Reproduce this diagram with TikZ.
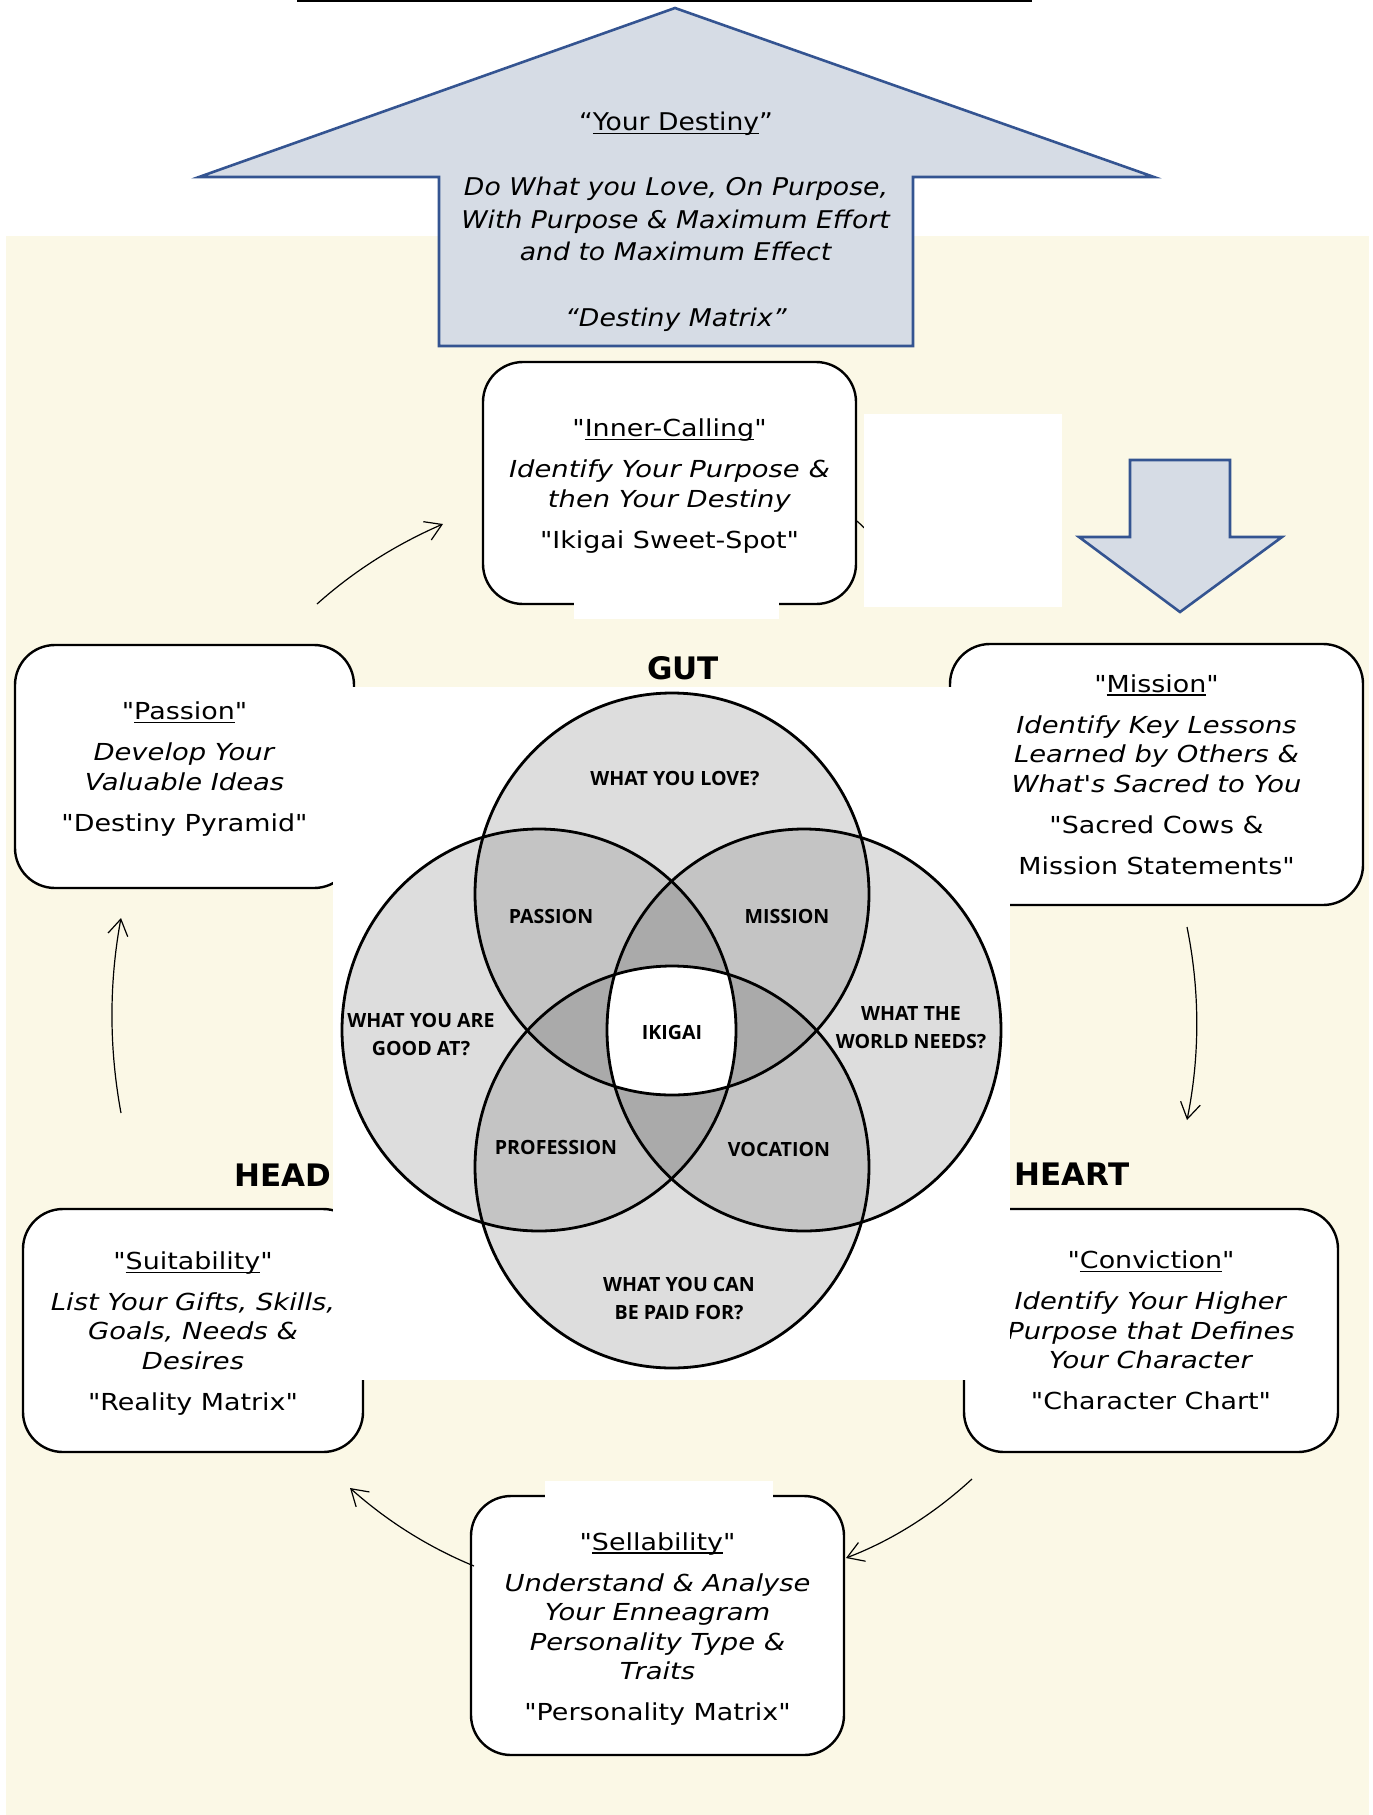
\documentclass[tikz,border=0pt]{standalone}
\usepackage{fontspec}
\usetikzlibrary{arrows.meta}
\setmainfont{DejaVu Sans}
\newfontfamily\bxfont[UprightFeatures={FakeStretch=1.15}, ItalicFeatures={FakeStretch=1.17}]{DejaVu Sans}
\newfontfamily\arfont[UprightFeatures={FakeStretch=1.09}, ItalicFeatures={FakeStretch=1.093}]{DejaVu Sans}
\newfontfamily\vnfont{Open Sans}
\newfontfamily\lbfont{DejaVu Sans}
\newcommand\boxtxt{\bxfont\fontsize{11.7}{14.75}\selectfont}
\newcommand\arrtxt{\arfont\fontsize{12.2}{16.3}\selectfont}
\newcommand\psep{5.75pt}
\newsavebox\ulbox
\newcommand\ulx[1]{\sbox\ulbox{#1}\rlap{\rule[-1.7pt]{\wd\ulbox}{0.6pt}}\usebox\ulbox}
\definecolor{cream}{RGB}{251,248,230}
\definecolor{arrfill}{RGB}{214,220,229}
\definecolor{arrline}{RGB}{52,84,145}
\definecolor{gA}{RGB}{221,221,221}
\definecolor{gB}{RGB}{196,196,196}
\definecolor{gC}{RGB}{170,170,170}
\begin{document}
\begin{tikzpicture}[x=0.5pt,y=-0.5pt,
  stepbox/.style={draw, line width=1.2pt, fill=white, rounded corners=20pt, inner sep=0pt},
  boxtext/.style={align=center, inner sep=0pt, font=\boxtxt},
  conn/.style={line width=0.6pt, -{Straight Barb[length=8pt,width=10pt]}},
  vlbl/.style={font=\vnfont\bfseries\fontsize{9.8}{14}\selectfont, align=center, inner sep=0pt},
  biglbl/.style={font=\lbfont\bfseries\fontsize{15.5}{18}\selectfont, inner sep=0pt},
  patch/.style={fill=white, draw=none},
  bigarrow/.style={fill=arrfill, draw=arrline, line width=1.3pt, line join=miter},
  venn/.style={line width=1.4pt}
]
\def\rx{98.5pt}
\def\ry{100.5pt}
\useasboundingbox (0,0) rectangle (1372,1815);
\fill[cream] (6,236) rectangle (1369,1815);
\draw[line width=1pt] (297,1) -- (1032,1);

% big up arrow
\filldraw[bigarrow] (675,8) -- (1154,177) -- (913,177) -- (913,346) -- (439,346) -- (439,177) -- (199,177) -- cycle;
\node[font=\arrtxt, align=center] (destiny) at (676,221.5) {“\ulx{Your Destiny}”\\[16.3pt]
  \textit{Do What you Love, On Purpose,}\\
  \textit{With Purpose \& Maximum Effort}\\
  \textit{and to Maximum Effect}\\[16.3pt]
  \textit{“Destiny Matrix”}};

% boxes
\node[stepbox, minimum width=186.5pt, minimum height=121pt] (inner) at (669.5,483) {};
\node[boxtext, yshift=-1.5pt] (innert) at (inner)
  {"\ulx{Inner-Calling}"\\[\psep]
   \textit{Identify Your Purpose \&}\\
   \textit{then Your Destiny}\\[\psep]
   "Ikigai Sweet-Spot"};
\node[stepbox, minimum width=169.5pt, minimum height=121.5pt] (passion) at (184.5,766.5) {};
\node[boxtext, yshift=-1.25pt] (passiont) at (passion)
  {"\ulx{Passion}"\\[\psep]
   \textit{Develop Your}\\
   \textit{Valuable Ideas}\\[\psep]
   "Destiny Pyramid"};
\node[stepbox, minimum width=206.5pt, minimum height=130.5pt] (mission) at (1156.5,774.5) {};
\node[boxtext] (missiont) at (mission)
  {"\ulx{Mission}"\\[\psep]
   \textit{Identify Key Lessons}\\
   \textit{Learned by Others \&}\\
   \textit{What's Sacred to You}\\[\psep]
   "Sacred Cows \&\\[\psep]
   Mission Statements"};
\node[stepbox, minimum width=170pt, minimum height=121.5pt] (suit) at (193,1330.5) {};
\node[boxtext, yshift=-1.5pt] (suitt) at (suit)
  {"\ulx{Suitability}"\\[\psep]
   \textit{List Your Gifts, Skills,}\\
   \textit{Goals, Needs \&}\\
   \textit{Desires}\\[\psep]
   "Reality Matrix"};
\node[stepbox, minimum width=187pt, minimum height=121.5pt] (conv) at (1151,1330.5) {};
\node[boxtext] (convt) at (conv)
  {"\ulx{Conviction}"\\[\psep]
   \textit{Identify Your Higher}\\
   \textit{Purpose that Defines}\\
   \textit{Your Character}\\[\psep]
   "Character Chart"};
\node[stepbox, minimum width=186.5pt, minimum height=129.5pt] (sell) at (657.5,1625.5) {};
\node[boxtext, yshift=-1.75pt] (sellt) at (sell)
  {"\ulx{Sellability}"\\[\psep]
   \textit{Understand \& Analyse}\\
   \textit{Your Enneagram}\\
   \textit{Personality Type \&}\\
   \textit{Traits}\\[\psep]
   "Personality Matrix"};

% connectors
\coordinate (s0) at (857,521); \coordinate (e0) at (940,600);
\draw[conn] (s0) -- (e0);
\coordinate (s1) at (121,1113); \coordinate (e1) at (121,918);
\draw[conn] (s1) .. controls (109,1048) and (109,983) .. (e1);
\coordinate (s2) at (317,604); \coordinate (e2) at (443,524);
\draw[conn] (s2) .. controls (355,570) and (397,544) .. (e2);
\coordinate (s3) at (1187,927); \coordinate (e3) at (1187,1120);
\draw[conn] (s3) .. controls (1200,991) and (1200,1056) .. (e3);
\coordinate (s4) at (972,1479); \coordinate (e4) at (846,1558);
\draw[conn] (s4) .. controls (935,1513) and (893,1540) .. (e4);
\coordinate (s5) at (474,1566); \coordinate (e5) at (350,1488);
\draw[conn] (s5) .. controls (428,1547) and (387,1521) .. (e5);

% white patches
\fill[patch] (574,600) rectangle (779,619);
\fill[patch] (864,414) rectangle (1062,607);
\fill[patch] (545,1481) rectangle (773,1499);
\fill[patch] (333,687) rectangle (1010,1380);

% Venn
\coordinate (cT) at (672,894);
\coordinate (cL) at (539,1030);
\coordinate (cR) at (804,1030);
\coordinate (cB) at (672,1167);
\fill[gA] (cT) ellipse [x radius=\rx, y radius=\ry];
\fill[gA] (cL) ellipse [x radius=\rx, y radius=\ry];
\fill[gA] (cR) ellipse [x radius=\rx, y radius=\ry];
\fill[gA] (cB) ellipse [x radius=\rx, y radius=\ry];
\begin{scope}
  \clip (cT) ellipse [x radius=\rx, y radius=\ry];
  \fill[gB] (cL) ellipse [x radius=\rx, y radius=\ry];
  \fill[gB] (cR) ellipse [x radius=\rx, y radius=\ry];
  \fill[gB] (cB) ellipse [x radius=\rx, y radius=\ry];
\end{scope}
\begin{scope}
  \clip (cB) ellipse [x radius=\rx, y radius=\ry];
  \fill[gB] (cL) ellipse [x radius=\rx, y radius=\ry];
  \fill[gB] (cR) ellipse [x radius=\rx, y radius=\ry];
\end{scope}
\begin{scope}
  \clip (cL) ellipse [x radius=\rx, y radius=\ry];
  \fill[gB] (cR) ellipse [x radius=\rx, y radius=\ry];
\end{scope}
\begin{scope}
  \clip (cT) ellipse [x radius=\rx, y radius=\ry];
  \clip (cL) ellipse [x radius=\rx, y radius=\ry];
  \fill[gC] (cR) ellipse [x radius=\rx, y radius=\ry];
  \fill[gC] (cB) ellipse [x radius=\rx, y radius=\ry];
\end{scope}
\begin{scope}
  \clip (cT) ellipse [x radius=\rx, y radius=\ry];
  \clip (cR) ellipse [x radius=\rx, y radius=\ry];
  \fill[gC] (cB) ellipse [x radius=\rx, y radius=\ry];
\end{scope}
\begin{scope}
  \clip (cB) ellipse [x radius=\rx, y radius=\ry];
  \clip (cL) ellipse [x radius=\rx, y radius=\ry];
  \fill[gC] (cR) ellipse [x radius=\rx, y radius=\ry];
\end{scope}
\begin{scope}
  \clip (cT) ellipse [x radius=\rx, y radius=\ry];
  \clip (cL) ellipse [x radius=\rx, y radius=\ry];
  \clip (cR) ellipse [x radius=\rx, y radius=\ry];
  \fill[white] (cB) ellipse [x radius=\rx, y radius=\ry];
\end{scope}
\draw[venn] (cT) ellipse [x radius=\rx, y radius=\ry];
\draw[venn] (cL) ellipse [x radius=\rx, y radius=\ry];
\draw[venn] (cR) ellipse [x radius=\rx, y radius=\ry];
\draw[venn] (cB) ellipse [x radius=\rx, y radius=\ry];

\node[vlbl] (love) at (675,779) {WHAT YOU LOVE?};
\node[vlbl] (vpassion) at (551,916) {PASSION};
\node[vlbl] (vmission) at (787,916) {MISSION};
\node[vlbl] (good) at (421,1035) {WHAT YOU ARE\\GOOD AT?};
\node[vlbl] (ikigai) at (672,1032) {IKIGAI};
\node[vlbl] (world) at (911,1028) {WHAT THE\\WORLD NEEDS?};
\node[vlbl] (prof) at (556,1147) {PROFESSION};
\node[vlbl] (voc) at (779,1149) {VOCATION};
\node[vlbl] (paid) at (679,1299) {WHAT YOU CAN\\BE PAID FOR?};

% big labels
\node[biglbl, anchor=base] (gut) at (683,679) {GUT};
\node[biglbl, anchor=base east] (head) at (332,1186) {HEAD};
\node[biglbl, anchor=base west] (heart) at (1014,1185) {HEART};

% down arrow
\filldraw[bigarrow] (1130,460) -- (1230,460) -- (1230,537) -- (1282,537) -- (1180,612) -- (1079,537) -- (1130,537) -- cycle;
\end{tikzpicture}
\end{document}
